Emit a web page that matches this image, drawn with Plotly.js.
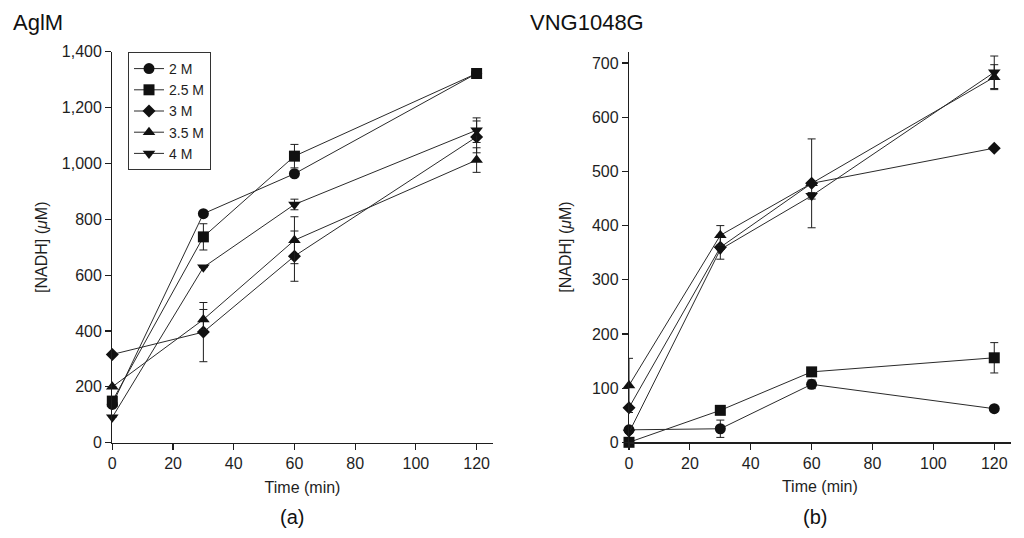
<!DOCTYPE html>
<html>
<head>
<meta charset="utf-8">
<script src="https://cdn.plot.ly/plotly-3.0.1.min.js"></script>
<style>html,body{margin:0;padding:0;background:#fff;}#chart{width:1024px;height:538px;}</style>
</head>
<body>
<div id="chart"></div>
<script>
// ---- data ----
const times = [0, 30, 60, 120];
const seriesNames = ["2 M", "2.5 M", "3 M", "3.5 M", "4 M"];

// Panel (a) AglM
const aglm_2M   = [137, 820, 963, 1322];
const aglm_2_5M = [149, 737, 1026, 1322];
const aglm_3M   = [316, 396, 668, 1095];
const aglm_3_5M = [200, 441, 725, 1012];
const aglm_4M   = [91, 628, 853, 1119];
const aglmErr_2M   = [0, 0, 0, 0];
const aglmErr_2_5M = [0, 47, 42, 0];
const aglmErr_3M   = [0, 106, 90, 57];
const aglmErr_3_5M = [0, 36, 84, 44];
const aglmErr_4M   = [0, 0, 19, 44];

// Panel (b) VNG1048G
const vng_2M   = [23, 25, 107, 62];
const vng_2_5M = [0, 59, 130, 156];
const vng_3M   = [64, 360, 478, 543];
const vng_3_5M = [105, 382, 478, 674];
const vng_4M   = [18, 356, 455, 683];
const vngErr_2M   = [0, 16, 8, 0];
const vngErr_2_5M = [0, 0, 0, 28];
const vngErr_3M   = [0, 22, 82, 0];
const vngErr_3_5M = [50, 18, 0, 23];
const vngErr_4M   = [0, 0, 6, 30];

const xTicks = [0, 20, 40, 60, 80, 100, 120];

// ---- styling ----
const ink = "#1e1e1e";
const font = "Liberation Sans, Arial, Helvetica, sans-serif";
const symbols = ["circle", "square", "diamond", "triangle-up", "triangle-down"];
const sizes = [11, 11, 10, 11, 11];

const aglmY = [aglm_2M, aglm_2_5M, aglm_3M, aglm_3_5M, aglm_4M];
const aglmE = [aglmErr_2M, aglmErr_2_5M, aglmErr_3M, aglmErr_3_5M, aglmErr_4M];
const vngY = [vng_2M, vng_2_5M, vng_3M, vng_3_5M, vng_4M];
const vngE = [vngErr_2M, vngErr_2_5M, vngErr_3M, vngErr_3_5M, vngErr_4M];

function mk(ys, es, i, xa, ya, legend) {
  return {
    x: times, y: ys[i], name: seriesNames[i], type: "scatter", mode: "lines+markers",
    xaxis: xa, yaxis: ya, showlegend: legend, cliponaxis: false,
    line: {color: "#2a2a2a", width: 1},
    marker: {symbol: symbols[i], size: sizes[i], color: "#111"},
    error_y: {type: "data", array: es[i], visible: true, color: ink, thickness: 1, width: 4}
  };
}
const traces = [];
for (let i = 0; i < 5; i++) traces.push(mk(aglmY, aglmE, i, "x", "y", true));
for (let i = 0; i < 5; i++) traces.push(mk(vngY, vngE, i, "x2", "y2", false));

const W = 1024, H = 538;
const axCommon = {
  showline: true, linecolor: ink, linewidth: 1.2, ticks: "outside", ticklen: 6,
  tickwidth: 1.2, tickcolor: ink, showgrid: false, zeroline: false,
  tickfont: {family: font, size: 16, color: ink}
};
const layout = {
  width: W, height: H, margin: {l: 0, r: 0, t: 0, b: 0},
  paper_bgcolor: "#fff", plot_bgcolor: "rgba(0,0,0,0)",
  font: {family: font, color: ink},
  showlegend: true,
  legend: {
    x: 128 / W, y: 1 - 52 / H, xanchor: "left", yanchor: "top",
    bordercolor: "#333", borderwidth: 1, bgcolor: "#fff",
    font: {family: font, size: 14, color: ink}, tracegroupgap: 0
  },
  xaxis: Object.assign({}, axCommon, {
    domain: [112.3 / W, 492.7 / W], range: [0, 125.3], tickvals: xTicks, anchor: "y",
    title: {text: "Time (min)", font: {family: font, size: 16, color: ink}, standoff: 10}
  }),
  yaxis: Object.assign({}, axCommon, {
    domain: [1 - 442.7 / H, 1 - 51.7 / H], range: [0, 1400], dtick: 200, tickformat: ",d", anchor: "x",
    title: {text: "[NADH] (<i>μ</i>M)", font: {family: font, size: 16, color: ink}, standoff: 10}
  }),
  xaxis2: Object.assign({}, axCommon, {
    domain: [629 / W, 1010.7 / W], range: [0, 125.4], tickvals: xTicks, anchor: "y2",
    title: {text: "Time (min)", font: {family: font, size: 16, color: ink}, standoff: 10}
  }),
  yaxis2: Object.assign({}, axCommon, {
    domain: [1 - 442.3 / H, 1 - 51.7 / H], range: [0, 721], dtick: 100, anchor: "x2",
    title: {text: "[NADH] (<i>μ</i>M)", font: {family: font, size: 16, color: ink}, standoff: 16}
  }),
  annotations: [
    {text: "AglM", xref: "paper", yref: "paper", x: 11 / W, y: 1 - 23 / H, xanchor: "left", yanchor: "middle",
     showarrow: false, font: {family: font, size: 22, color: "#111"}},
    {text: "VNG1048G", xref: "paper", yref: "paper", x: 528 / W, y: 1 - 23 / H, xanchor: "left", yanchor: "middle",
     showarrow: false, font: {family: font, size: 22, color: "#111"}},
    {text: "(a)", xref: "paper", yref: "paper", x: 292 / W, y: 1 - 517 / H, xanchor: "center", yanchor: "middle",
     showarrow: false, font: {family: font, size: 20, color: "#111"}},
    {text: "(b)", xref: "paper", yref: "paper", x: 815 / W, y: 1 - 517 / H, xanchor: "center", yanchor: "middle",
     showarrow: false, font: {family: font, size: 20, color: "#111"}}
  ]
};
Plotly.newPlot("chart", traces, layout, {staticPlot: true, displayModeBar: false});
</script>
</body>
</html>
